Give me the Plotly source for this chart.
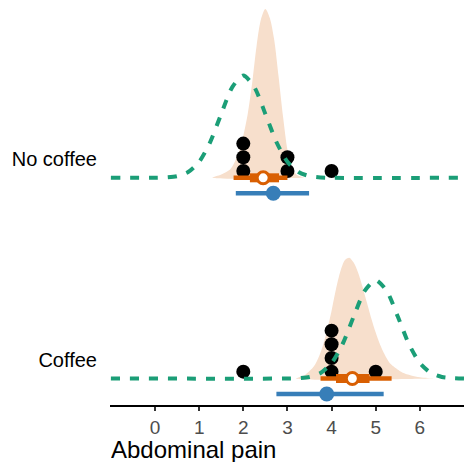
import plotly.graph_objects as go
from collections import Counter

# ---------------- data ----------------
groups = ["Coffee", "No coffee"]          # bottom row first
raw_values = {
    "No coffee": [2, 2, 2, 3, 3, 4],
    "Coffee": [2, 4, 4, 4, 4, 5],
}

# posterior density (peach slab)
post_x_nocoffee = [1.3, 1.5, 1.7, 1.8, 1.9, 2.0, 2.1, 2.2, 2.3, 2.4, 2.5, 2.6, 2.7, 2.8, 2.9, 3.0, 3.1, 3.2, 3.4]
post_d_nocoffee = [0.0, 0.026, 0.066, 0.12, 0.20, 0.33, 0.50, 0.74, 1.03, 1.24, 1.32, 1.25, 1.08, 0.79, 0.48, 0.22, 0.08, 0.026, 0.0]
post_x_coffee = [3.2, 3.4, 3.6, 3.7, 3.8, 3.9, 4.0, 4.1, 4.2, 4.3, 4.4, 4.5, 4.6, 4.7, 4.8, 4.9, 5.0, 5.1, 5.2, 5.3, 5.4, 5.6, 5.8, 6.0, 6.3]
post_d_coffee = [0.0, 0.028, 0.095, 0.16, 0.255, 0.38, 0.53, 0.70, 0.84, 0.926, 0.945, 0.907, 0.83, 0.72, 0.595, 0.47, 0.36, 0.265, 0.19, 0.13, 0.095, 0.047, 0.024, 0.009, 0.0]

# green dashed density
green_x_nocoffee = [-1.0, 0.0, 0.25, 0.5, 0.75, 1.0, 1.25, 1.5, 1.75, 2.0, 2.25, 2.5, 2.75, 3.0, 3.25, 3.5, 3.75, 4.0, 7.0]
green_d_nocoffee = [0.0, 0.0, 0.003, 0.013, 0.045, 0.125, 0.28, 0.50, 0.71, 0.80, 0.71, 0.50, 0.28, 0.125, 0.045, 0.013, 0.003, 0.0, 0.0]
green_x_coffee = [-1.0, 3.0, 3.25, 3.5, 3.75, 4.0, 4.25, 4.5, 4.75, 5.0, 5.25, 5.5, 5.75, 6.0, 6.25, 6.5, 6.75, 7.0]
green_d_coffee = [0.0, 0.0, 0.003, 0.012, 0.043, 0.121, 0.27, 0.485, 0.685, 0.77, 0.685, 0.485, 0.27, 0.121, 0.043, 0.012, 0.003, 0.0]

# orange interval (point, thick, thin)
orange_point = {"No coffee": 2.45, "Coffee": 4.47}
orange_thick = {"No coffee": (2.15, 2.81), "Coffee": (4.10, 4.86)}
orange_thin = {"No coffee": (1.78, 3.00), "Coffee": (3.75, 5.36)}

# blue interval
blue_point = {"No coffee": 2.68, "Coffee": 3.89}
blue_range = {"No coffee": (1.83, 3.49), "Coffee": (2.75, 5.18)}

x_ticks = [0, 1, 2, 3, 4, 5, 6]
x_title = "Abdominal pain"

# ---------------- styling / layout constants ----------------
PEACH = "#F7DFCC"
ORANGE = "#D95F02"
GREEN = "#1B9E77"
BLUE = "#377EB8"
ROW_PX = 201.0
DENS_SCALE = 128.0 / ROW_PX      # row units per density unit
DOT_STEP = 13.7 / ROW_PX
BLUE_OFF = 15.5 / ROW_PX
LABEL_OFF = 19.0 / ROW_PX
FONT = "Liberation Sans, Arial, Helvetica, sans-serif"

row_of = {g: i + 1 for i, g in enumerate(groups)}
post = {"No coffee": (post_x_nocoffee, post_d_nocoffee), "Coffee": (post_x_coffee, post_d_coffee)}
green = {"No coffee": (green_x_nocoffee, green_d_nocoffee), "Coffee": (green_x_coffee, green_d_coffee)}

fig = go.Figure()

# peach slabs
for g in groups:
    r = row_of[g]
    xs, ds = post[g]
    fig.add_trace(go.Scatter(
        x=list(xs) + [xs[-1], xs[0]],
        y=[r + d * DENS_SCALE for d in ds] + [r, r],
        mode="lines", fill="toself", fillcolor=PEACH,
        line=dict(width=0, color=PEACH, shape="spline", smoothing=0.8),
        hoverinfo="skip", showlegend=False))

# dots
for g in groups:
    r = row_of[g]
    seen = Counter()
    dx, dy = [], []
    for v in sorted(raw_values[g]):
        k = seen[v]
        seen[v] += 1
        dx.append(v)
        dy.append(r + (k + 0.5) * DOT_STEP)
    fig.add_trace(go.Scatter(x=dx, y=dy, mode="markers",
                             marker=dict(size=14, color="black", line=dict(width=0)),
                             hoverinfo="skip", showlegend=False))

# green dashed density
for g in groups:
    r = row_of[g]
    xs, ds = green[g]
    fig.add_trace(go.Scatter(
        x=xs, y=[r + d * DENS_SCALE for d in ds], mode="lines",
        line=dict(color=GREEN, width=4, dash="9px,10px", shape="spline", smoothing=0.7),
        hoverinfo="skip", showlegend=False))

# blue intervals
for g in groups:
    r = row_of[g] - BLUE_OFF
    lo, hi = blue_range[g]
    fig.add_trace(go.Scatter(x=[lo, hi], y=[r, r], mode="lines",
                             line=dict(color=BLUE, width=4.5), hoverinfo="skip", showlegend=False))
    fig.add_trace(go.Scatter(x=[blue_point[g]], y=[r], mode="markers",
                             marker=dict(size=15, color=BLUE), hoverinfo="skip", showlegend=False))

# orange intervals
for g in groups:
    r = row_of[g]
    lo, hi = orange_thin[g]
    fig.add_trace(go.Scatter(x=[lo, hi], y=[r, r], mode="lines",
                             line=dict(color=ORANGE, width=4.5), hoverinfo="skip", showlegend=False))
    lo, hi = orange_thick[g]
    fig.add_trace(go.Scatter(x=[lo, hi], y=[r, r], mode="lines",
                             line=dict(color=ORANGE, width=9), hoverinfo="skip", showlegend=False))
    fig.add_trace(go.Scatter(x=[orange_point[g]], y=[r], mode="markers",
                             marker=dict(size=12, color="white", line=dict(color=ORANGE, width=3)),
                             hoverinfo="skip", showlegend=False))

fig.update_layout(
    width=464, height=463,
    margin=dict(l=110, r=0, t=0, b=58),
    paper_bgcolor="white", plot_bgcolor="white",
    font=dict(family=FONT),
    xaxis=dict(range=[-1.02, 7.0], tickvals=x_ticks, ticktext=[str(t) for t in x_ticks],
               showgrid=False, zeroline=False, showline=True, linecolor="black", linewidth=1.5,
               ticks="outside", ticklen=4, tickwidth=1.5, tickcolor="#333333",
               tickfont=dict(size=19, color="#4D4D4D", family=FONT)),
    yaxis=dict(range=[0.868, 2.886], tickvals=[row_of[g] + LABEL_OFF for g in groups], ticktext=groups,
               showgrid=False, zeroline=False, showline=False, ticks="",
               ticklabelstandoff=12,
               tickfont=dict(size=20, color="black", family=FONT)),
    annotations=[dict(text=x_title, xref="paper", yref="paper", x=0, y=-0.1086,
                      xanchor="left", yanchor="middle", showarrow=False,
                      height=26, valign="middle", borderpad=0,
                      font=dict(size=24, color="black", family=FONT))],
)

fig.write_html("out.html",
               config={"displayModeBar": False},
               post_script="document.body.style.margin='0';document.body.style.overflow='hidden';")
